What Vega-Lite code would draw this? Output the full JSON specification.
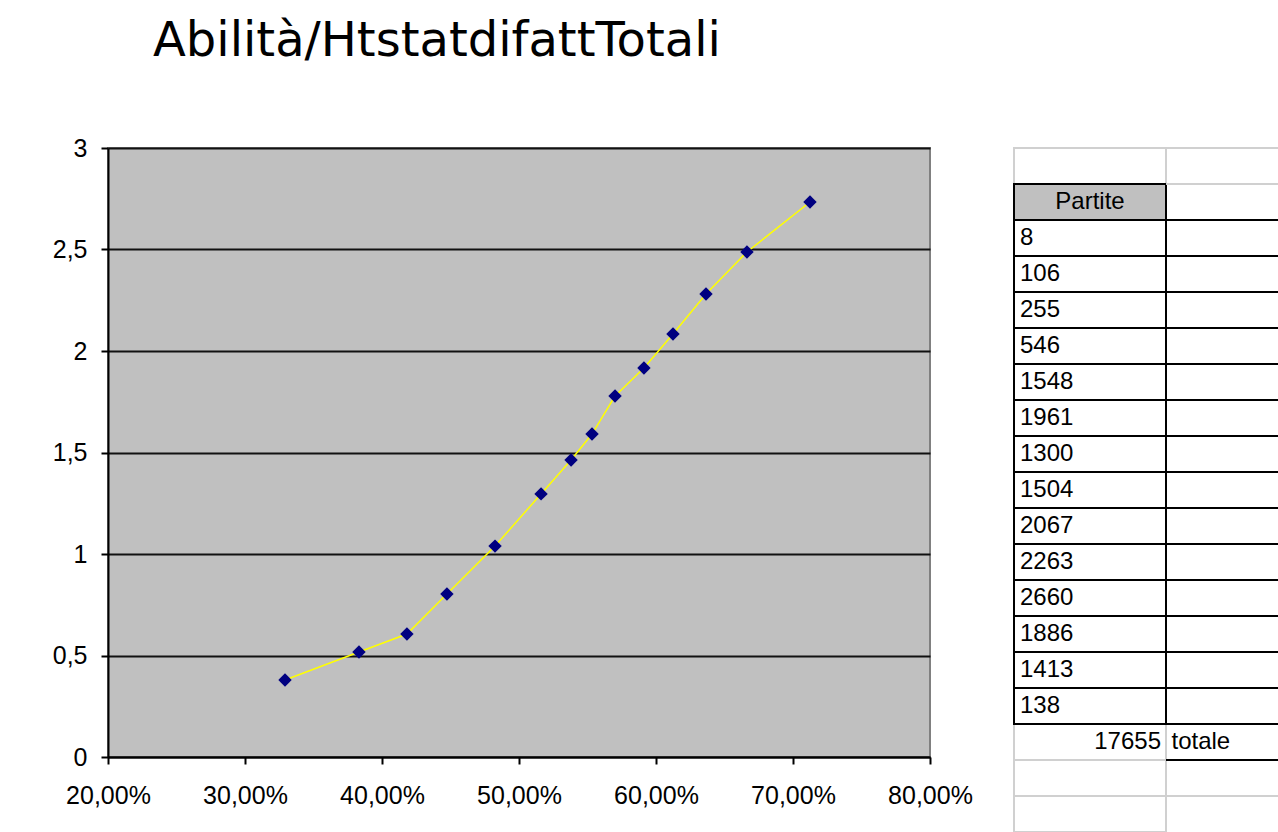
{
  "$schema": "https://vega.github.io/schema/vega-lite/v6.json",
  "background": "white",
  "padding": {"left": 51, "top": 18, "right": 0, "bottom": 0},
  "config": {
    "locale": {"number": {"decimal": ",", "thousands": ".", "grouping": [3], "currency": ["€", ""]}},
    "view": {"stroke": null},
    "font": "Liberation Sans"
  },
  "title": {
    "text": "Abilità/HtstatdifattTotali",
    "font": "DejaVu Sans",
    "fontSize": 48,
    "fontWeight": "normal",
    "color": "black",
    "anchor": "start",
    "frame": "group",
    "dx": 45,
    "offset": 69
  },
  "datasets": {
    "punti": [
      {"abilita": 0.3292, "valore": 0.379},
      {"abilita": 0.3832, "valore": 0.517},
      {"abilita": 0.4182, "valore": 0.606},
      {"abilita": 0.4474, "valore": 0.803},
      {"abilita": 0.4825, "valore": 1.039},
      {"abilita": 0.5161, "valore": 1.296},
      {"abilita": 0.5380, "valore": 1.463},
      {"abilita": 0.5533, "valore": 1.591},
      {"abilita": 0.5701, "valore": 1.778},
      {"abilita": 0.5912, "valore": 1.916},
      {"abilita": 0.6124, "valore": 2.084},
      {"abilita": 0.6365, "valore": 2.281},
      {"abilita": 0.6664, "valore": 2.488},
      {"abilita": 0.7124, "valore": 2.734}
    ],
    "tabella": [
      {"riga": 0, "tipo": "vuoto", "a": "", "b": ""},
      {"riga": 1, "tipo": "intestazione", "a": "Partite", "b": ""},
      {"riga": 2, "tipo": "dato", "a": "8", "b": ""},
      {"riga": 3, "tipo": "dato", "a": "106", "b": ""},
      {"riga": 4, "tipo": "dato", "a": "255", "b": ""},
      {"riga": 5, "tipo": "dato", "a": "546", "b": ""},
      {"riga": 6, "tipo": "dato", "a": "1548", "b": ""},
      {"riga": 7, "tipo": "dato", "a": "1961", "b": ""},
      {"riga": 8, "tipo": "dato", "a": "1300", "b": ""},
      {"riga": 9, "tipo": "dato", "a": "1504", "b": ""},
      {"riga": 10, "tipo": "dato", "a": "2067", "b": ""},
      {"riga": 11, "tipo": "dato", "a": "2263", "b": ""},
      {"riga": 12, "tipo": "dato", "a": "2660", "b": ""},
      {"riga": 13, "tipo": "dato", "a": "1886", "b": ""},
      {"riga": 14, "tipo": "dato", "a": "1413", "b": ""},
      {"riga": 15, "tipo": "dato", "a": "138", "b": ""},
      {"riga": 16, "tipo": "totale", "a": "17655", "b": "totale"},
      {"riga": 17, "tipo": "vuoto", "a": "", "b": ""},
      {"riga": 18, "tipo": "vuoto", "a": "", "b": ""}
    ]
  },
  "bounds": "flush",
  "spacing": 84,
  "hconcat": [
    {
      "width": 822,
      "height": 609,
      "data": {"name": "punti"},
      "view": {"fill": "#C0C0C0", "stroke": "#808080", "strokeWidth": 2},
      "encoding": {
        "x": {
          "field": "abilita",
          "type": "quantitative",
          "scale": {"domain": [0.2, 0.8], "nice": false, "zero": false},
          "axis": {
            "title": null,
            "format": ".2%",
            "values": [0.2, 0.3, 0.4, 0.5, 0.6, 0.7, 0.8],
            "grid": false,
            "domainColor": "black",
            "domainWidth": 2,
            "tickColor": "black",
            "tickWidth": 2,
            "tickSize": 7,
            "labelFontSize": 25,
            "labelColor": "black",
            "labelPadding": 19,
            "labelFlush": false,
            "labelOverlap": false
          }
        },
        "y": {
          "field": "valore",
          "type": "quantitative",
          "scale": {"domain": [0, 3], "nice": false},
          "axis": {
            "title": null,
            "format": "~g",
            "values": [0, 0.5, 1, 1.5, 2, 2.5, 3],
            "grid": true,
            "gridColor": "#111111",
            "gridWidth": 2,
            "domainColor": "black",
            "domainWidth": 2,
            "tickColor": "black",
            "tickWidth": 2,
            "tickSize": 7,
            "labelFontSize": 25,
            "labelColor": "black",
            "labelPadding": 14,
            "labelFlush": false,
            "labelOverlap": false
          }
        }
      },
      "layer": [
        {"mark": {"type": "line", "color": "#FFFF00", "strokeWidth": 1.5}},
        {"mark": {"type": "point", "shape": "diamond", "filled": true, "color": "#000080", "size": 180, "opacity": 1}}
      ]
    },
    {
      "bounds": "flush",
      "spacing": 0,
      "hconcat": [
        {
          "width": 152,
          "height": 684,
          "data": {"name": "tabella"},
          "encoding": {
            "y": {"field": "riga", "type": "ordinal", "axis": null, "scale": {"type": "band", "paddingInner": 0, "paddingOuter": 0}}
          },
          "layer": [
            {"mark": {"type": "rect", "fill": "white", "stroke": "#D0D0D0", "strokeWidth": 2}},
            {
              "transform": [{"filter": "datum.tipo === 'intestazione' || datum.tipo === 'dato'"}],
              "mark": {"type": "rect", "stroke": "black", "strokeWidth": 2},
              "encoding": {
                "fill": {"field": "tipo", "type": "nominal", "scale": {"domain": ["intestazione", "dato"], "range": ["#C0C0C0", "white"]}, "legend": null}
              }
            },
            {
              "transform": [{"filter": "datum.tipo === 'intestazione'"}],
              "mark": {"type": "text", "fontSize": 24, "align": "center", "color": "black"},
              "encoding": {"text": {"field": "a"}}
            },
            {
              "transform": [{"filter": "datum.tipo === 'dato'"}],
              "mark": {"type": "text", "fontSize": 24, "align": "left", "dx": -70, "color": "black"},
              "encoding": {"text": {"field": "a"}}
            },
            {
              "transform": [{"filter": "datum.tipo === 'totale'"}],
              "mark": {"type": "text", "fontSize": 24, "align": "right", "dx": 71, "color": "black"},
              "encoding": {"text": {"field": "a"}}
            }
          ]
        },
        {
          "width": 113,
          "height": 684,
          "data": {"name": "tabella"},
          "encoding": {
            "y": {"field": "riga", "type": "ordinal", "axis": null, "scale": {"type": "band", "paddingInner": 0, "paddingOuter": 0}}
          },
          "layer": [
            {
              "mark": {"type": "rule", "color": "#D0D0D0", "strokeWidth": 2},
              "encoding": {"y": {"field": "riga", "type": "ordinal", "bandPosition": 0}}
            },
            {
              "transform": [{"filter": "datum.tipo === 'dato' || datum.tipo === 'totale'"}],
              "mark": {"type": "rule", "color": "black", "strokeWidth": 2},
              "encoding": {"y": {"field": "riga", "type": "ordinal", "bandPosition": 0}}
            },
            {
              "transform": [{"filter": "datum.tipo === 'totale'"}],
              "mark": {"type": "rule", "color": "black", "strokeWidth": 2},
              "encoding": {"y": {"field": "riga", "type": "ordinal", "bandPosition": 1}}
            },
            {
              "transform": [{"filter": "datum.tipo === 'totale'"}],
              "mark": {"type": "text", "fontSize": 24, "align": "left", "dx": -51, "color": "black"},
              "encoding": {"text": {"field": "b"}}
            }
          ]
        }
      ]
    }
  ]
}
